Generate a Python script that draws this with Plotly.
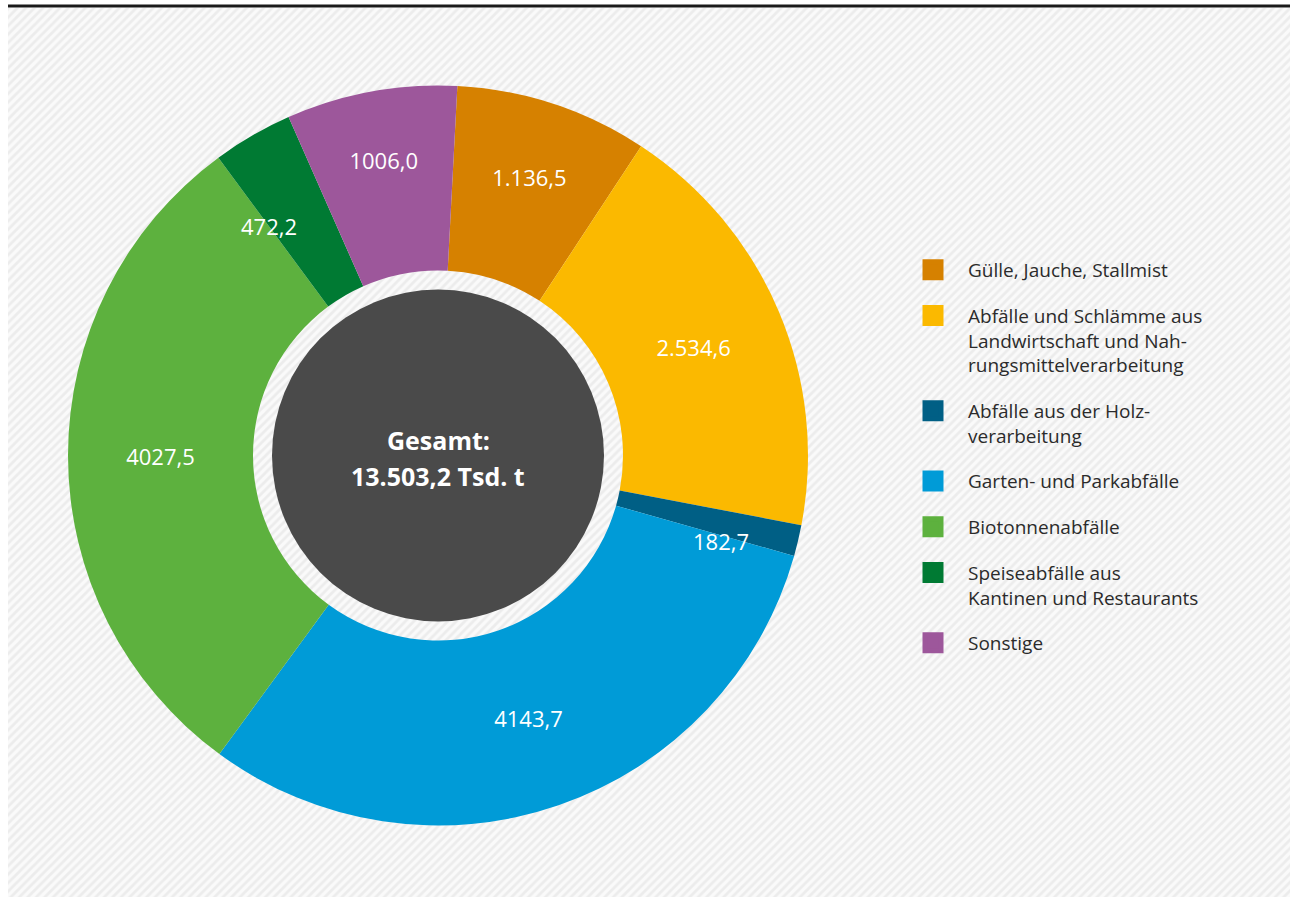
import math
import plotly.graph_objects as go

# ---------------- data ----------------
categories = [
    "Gülle, Jauche, Stallmist",
    "Abfälle und Schlämme aus<br>Landwirtschaft und Nah-<br>rungsmittelverarbeitung",
    "Abfälle aus der Holz-<br>verarbeitung",
    "Garten- und Parkabfälle",
    "Biotonnenabfälle",
    "Speiseabfälle aus<br>Kantinen und Restaurants",
    "Sonstige",
]
values = [1136.5, 2534.6, 182.7, 4143.7, 4027.5, 472.2, 1006.0]
value_labels = ["1.136,5", "2.534,6", "182,7", "4143,7", "4027,5", "472,2", "1006,0"]
colors = ["#d68100", "#fbb900", "#005f85", "#009bd7", "#5db13e", "#007a33", "#9d579b"]
total_lines = ["Gesamt:", "13.503,2 Tsd. t"]

# ---------------- layout constants (pixels) ----------------
W, H = 1290, 899
cx, cy, R = 438, 455.5, 370
HOLE = 0.5
ROTATION = 3
FONT = "Open Sans"
LABEL_SIZE = 22

# labels drawn as annotations (slice too thin / narrow for inside placement)
# index -> (fraction along slice, extra degrees, radius fraction of R)
special = {2: (1.0, 1.0, 0.80), 5: (0.0, 0.0, 0.77)}

fig = go.Figure()

# hatched background panel
fig.add_trace(go.Scatter(
    x=[8, W + 5, W + 5, 8, 8], y=[8, 8, 897, 897, 8],
    mode="lines", fill="toself", line=dict(width=0),
    fillcolor="#f5f5f5",
    fillpattern=dict(shape="/", bgcolor="#fafafa", fgcolor="#dedede", size=6, solidity=0.45),
    hoverinfo="skip", showlegend=False,
))

# donut
fig.add_trace(go.Pie(
    labels=categories, values=values, text=value_labels,
    textinfo="text",
    textposition=["none" if i in special else "inside" for i in range(len(values))],
    insidetextorientation="horizontal",
    textfont=dict(color="white", size=LABEL_SIZE, family=FONT),
    marker=dict(colors=colors, line=dict(width=0)),
    sort=False, direction="clockwise", rotation=ROTATION, hole=HOLE,
    domain=dict(x=[(cx - R) / W, (cx + R) / W], y=[(H - cy - R) / H, (H - cy + R) / H]),
    showlegend=False, hoverinfo="label+value",
))

# legend entries
for cat, col in zip(categories, colors):
    fig.add_trace(go.Scatter(
        x=[None], y=[None], mode="markers", name=cat, legendgroup=cat,
        marker=dict(symbol="square", size=16, color=col, line=dict(color=col, width=6)),
        showlegend=True, hoverinfo="skip",
    ))

annotations = []
total = sum(values)
cum = 0.0
for i, v in enumerate(values):
    if i in special:
        frac, extra, rf = special[i]
        a = math.radians(ROTATION + (cum + frac * v) * 360.0 / total + extra)
        annotations.append(dict(
            x=cx + rf * R * math.sin(a), y=cy - rf * R * math.cos(a),
            xref="x", yref="y", text=value_labels[i], showarrow=False,
            font=dict(family=FONT, size=LABEL_SIZE, color="white"),
        ))
    cum += v

for line, yy in zip(total_lines, [cy - 16, cy + 20]):
    annotations.append(dict(
        x=cx, y=yy, xref="x", yref="y", text="<b>%s</b>" % line, showarrow=False,
        font=dict(family=FONT, size=25, color="white"),
    ))

fig.update_layout(
    width=W, height=H,
    margin=dict(l=0, r=0, t=0, b=0),
    paper_bgcolor="white", plot_bgcolor="white",
    xaxis=dict(range=[0, W], visible=False, domain=[0, 1], fixedrange=True),
    yaxis=dict(range=[H, 0], visible=False, domain=[0, 1], fixedrange=True),
    legend=dict(
        x=898 / W, y=(H - 251) / H, xanchor="left", yanchor="top",
        font=dict(family=FONT, size=19, color="#2b2b2b"),
        bgcolor="rgba(0,0,0,0)", tracegroupgap=18, valign="top", itemwidth=60,
    ),
    shapes=[
        dict(type="line", xref="x", yref="y", x0=8, x1=W, y0=6, y1=6,
             line=dict(color="#1a1a1a", width=3)),
        dict(type="circle", xref="x", yref="y", x0=cx - 166, x1=cx + 166,
             y0=cy - 166, y1=cy + 166, fillcolor="#4a4a4a", line=dict(width=0), layer="above"),
    ],
    annotations=annotations,
)

fig.write_html(
    "out.html",
    config={"displayModeBar": False},
    post_script="document.body.style.margin='0';document.body.style.overflow='hidden';",
)
